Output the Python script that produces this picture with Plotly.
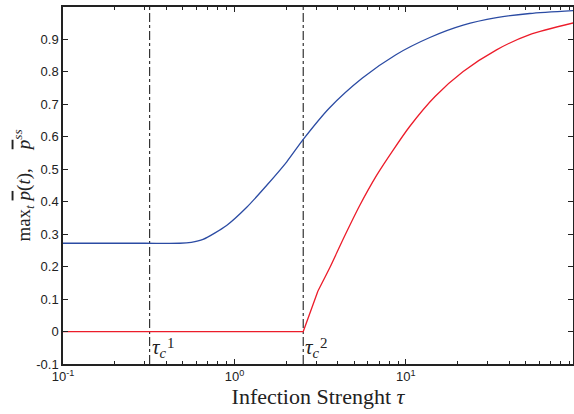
import math
import plotly.graph_objects as go

# values
tau_blue = [0.1, 0.3, 0.48, 0.56, 0.656, 0.90, 1.18, 1.54, 2.02, 2.52, 3.57, 5.58, 8.75, 13.8, 21.6, 33.8, 52.8, 95]
p_blue = [0.272, 0.272, 0.272, 0.275, 0.284, 0.327, 0.383, 0.450, 0.523, 0.592, 0.688, 0.781, 0.853, 0.906, 0.944, 0.967, 0.980, 0.989]

tau_red = [0.1, 2.52, 3.07, 3.61, 4.31, 5.39, 6.75, 8.43, 10.5, 14.8, 21.6, 33.8, 52.8, 95]
p_red = [0, 0, 0.125, 0.198, 0.285, 0.389, 0.481, 0.559, 0.631, 0.724, 0.801, 0.868, 0.915, 0.951]

tau_c = [0.32, 2.52]
tau_c_sup = ['1', '2']

xtick_vals = [0.1, 1, 10]
xtick_text = ['10<sup>-1</sup>', '10<sup>0</sup>', '10<sup>1</sup>']
ytick_vals = [-0.1, 0, 0.1, 0.2, 0.3, 0.4, 0.5, 0.6, 0.7, 0.8, 0.9]
ytick_text = ['-0.1', '0', '0.1', '0.2', '0.3', '0.4', '0.5', '0.6', '0.7', '0.8', '0.9']
minor_vals = [0.2, 0.3, 0.4, 0.5, 0.6, 0.7, 0.8, 0.9, 2, 3, 4, 5, 6, 7, 8, 9, 20, 30, 40, 50, 60, 70, 80, 90]

blue = '#2b4ba3'
red = '#ec1c2a'
ink = '#222222'
serif = 'Liberation Serif, serif'
sans = 'Liberation Sans, Arial, sans-serif'

fig = go.Figure()

for t in tau_c:
    fig.add_trace(go.Scatter(x=[t, t], y=[-0.1, 1.0], mode='lines',
                             line=dict(color='#333333', width=1.2, dash='dashdot'), showlegend=False))

fig.add_trace(go.Scatter(x=tau_blue, y=p_blue, mode='lines',
                         line=dict(color=blue, width=1.3, shape='spline', smoothing=0.7), showlegend=False))
# red: flat + straight segment up to the kink, then smooth curve
fig.add_trace(go.Scatter(x=tau_red[:3], y=p_red[:3], mode='lines',
                         line=dict(color=red, width=1.3), showlegend=False))
fig.add_trace(go.Scatter(x=tau_red[2:], y=p_red[2:], mode='lines',
                         line=dict(color=red, width=1.3, shape='spline', smoothing=0.7), showlegend=False))

# tau_c labels (annotation x is log10 on a log axis)
for t, s in zip(tau_c, tau_c_sup):
    fig.add_annotation(x=math.log10(t), y=-0.05, text='<i>τ</i><sub><i>c</i></sub>', showarrow=False,
                       xanchor='left', yanchor='middle', xshift=0,
                       font=dict(family=serif, size=21, color=ink))
    fig.add_annotation(x=math.log10(t), y=-0.035, text=s, showarrow=False,
                       xanchor='left', yanchor='middle', xshift=15,
                       font=dict(family=serif, size=15, color=ink))

fig.update_xaxes(type='log', range=[-1, 1.975], tickvals=xtick_vals, ticktext=xtick_text,
                 ticks='inside', ticklen=5, tickcolor=ink, showgrid=False, zeroline=False,
                 showline=True, linecolor=ink, linewidth=1.5, mirror='ticks', automargin=False,
                 minor=dict(tickvals=minor_vals, ticks='inside', ticklen=3, tickcolor=ink),
                 tickfont=dict(family=sans, size=13, color=ink),
                 title=dict(text='Infection Strenght <i>τ</i>', font=dict(family=serif, size=22, color=ink),
                            standoff=1))
fig.update_yaxes(range=[-0.1, 1.0], tickvals=ytick_vals, ticktext=ytick_text,
                 ticks='inside', ticklen=5, tickcolor=ink, showgrid=False, zeroline=False,
                 showline=True, linecolor=ink, linewidth=1.5, mirror='ticks', automargin=False,
                 tickfont=dict(family=sans, size=13, color=ink),
                 title=dict(text="max<sub><i>t</i></sub> <i><span style='text-decoration:overline'>p</span></i>(<i>t</i>),    "
                                 "<i><span style='text-decoration:overline'>p</span></i><sup><i>ss</i></sup>",
                            font=dict(family=serif, size=19, color=ink), standoff=1))

fig.update_layout(width=574, height=414, margin=dict(l=63, r=1, t=7, b=50),
                  plot_bgcolor='white', paper_bgcolor='white')

fig.write_html("out.html", config={'displayModeBar': False},
               post_script="document.body.style.margin='0';")
